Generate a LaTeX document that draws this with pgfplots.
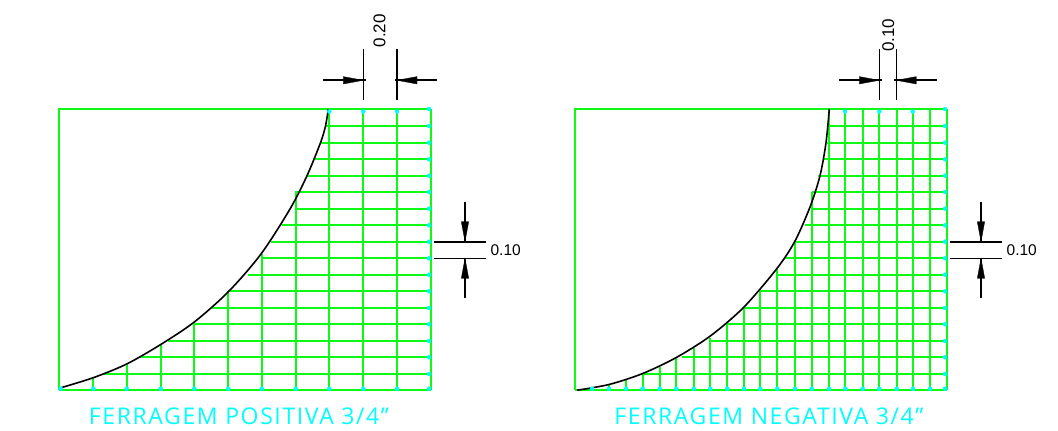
\documentclass[border=0pt]{standalone}
\usepackage{fontspec}
\usepackage{pgfplots}
\pgfplotsset{compat=1.18}
\setmainfont{Liberation Sans}
\newfontfamily\cad[LetterSpace=7]{Open Sans}
\definecolor{gr}{HTML}{0CFA14}
\definecolor{cy}{HTML}{00FFFF}
\begin{document}
\begin{tikzpicture}
\begin{axis}[
  width=1058bp,height=431bp,scale only axis,
  xmin=0,xmax=1058,ymin=0,ymax=431,y dir=reverse,
  axis lines=none,clip=false,unbounded coords=jump,
  grn/.style={color=gr,line width=1.8bp,no markers},
  blk/.style={color=black,line width=1.6bp,no markers},
  arr/.style={color=black,fill=black,line width=0.3bp,no markers},
  mk/.style={only marks,mark=*,mark size=2bp,color=cy,mark options={fill=cy,draw=cy}},
]
\addplot[draw=none,no markers] coordinates {(0,0)(1058,431)};
% LEFT PANEL
\addplot[color=gr,line width=1.5bp,no markers] coordinates {(59,390.3)(59,109)(430.7,109)};
\addplot[grn] coordinates {
(325.7,126)(430.7,126)(nan,nan)(320,142.7)(430.7,142.7)(nan,nan)(313.3,159.3)(430.7,159.3)(nan,nan)
(306.7,175.7)(430.7,175.7)(nan,nan)(295,192)(430.7,192)(nan,nan)(295,208.7)(430.7,208.7)(nan,nan)
(281.7,225.3)(430.7,225.3)(nan,nan)(271,241.7)(430.7,241.7)(nan,nan)(260.7,258.3)(430.7,258.3)(nan,nan)
(248,274.7)(430.7,274.7)(nan,nan)(228,291.3)(430.7,291.3)(nan,nan)(211.7,308)(430.7,308)(nan,nan)
(194,324.3)(430.7,324.3)(nan,nan)(167.7,341)(430.7,341)(nan,nan)(140,357.3)(430.7,357.3)(nan,nan)
(101.7,374)(430.7,374)(nan,nan)(59,390.3)(430.7,390.3)};
\addplot[grn] coordinates {
(93.3,377.7)(93.3,390.3)(nan,nan)(126.7,364.3)(126.7,390.3)(nan,nan)(160.7,344.3)(160.7,390.3)(nan,nan)
(194.3,323.7)(194.3,390.3)(nan,nan)(228.3,291)(228.3,390.3)(nan,nan)(261.7,254.3)(261.7,390.3)(nan,nan)
(295.7,191.7)(295.7,390.3)(nan,nan)(329.3,109)(329.3,390.3)(nan,nan)(363.3,109)(363.3,390.3)(nan,nan)
(397,109)(397,390.3)(nan,nan)(430.7,109)(430.7,390.3)};
\addplot[blk,smooth] coordinates {(61,387.7)(93.3,377.7)(126.7,364)(160.7,344.5)(194.3,322)(228.6,291.5)(261,254)(290,209)(307,175.7)(320.5,142.7)(325.5,126)(328.3,109)};
\addplot[mk] coordinates {
(60.7,388.7)(93.3,388.7)(126.7,388.7)(160.7,388.7)(194.3,388.7)(228.3,388.7)(261.7,388.7)(295.7,388.7)(329.3,388.7)(363.3,388.7)(397,388.7)(429,388.7)
(329.3,111.5)(363.3,111.5)(397,111.5)
(429,109)(429,126)(429,142.7)(429,159.3)(429,175.7)(429,192)(429,208.7)(429,225.3)(429,241.7)(429,258.3)(429,274.7)(429,291.3)(429,308)(429,324.3)(429,341)(429,357.3)(429,374)};
% left dimensions
\addplot[blk] coordinates {(363.3,49.3)(363.3,100.3)(nan,nan)(397,49.3)(397,100.3)(nan,nan)(323,80.3)(365.5,80.3)(nan,nan)(395,80.3)(437.3,80.3)
(nan,nan)(434,241.7)(485.7,241.7)(nan,nan)(434,258.3)(485.7,258.3)(nan,nan)(465,201.7)(465,241.7)(nan,nan)(465,258.3)(465,298.3)};
\addplot[arr] coordinates {(343.3,76.6)(363.3,80.3)(343.3,84)(343.3,76.6)};
\addplot[arr] coordinates {(417,76.6)(397,80.3)(417,84)(417,76.6)};
\addplot[arr] coordinates {(461.3,221.7)(465,241.7)(468.7,221.7)(461.3,221.7)};
\addplot[arr] coordinates {(461.3,278.3)(465,258.3)(468.7,278.3)(461.3,278.3)};
\node[rotate=90,font=\fontsize{17bp}{18bp}\selectfont,inner sep=0pt] at (axis cs:379.5,30.7) {0.20};
\node[font=\fontsize{15.5bp}{16bp}\selectfont,inner sep=0pt] at (axis cs:505.7,250) {0.10};
\node[color=cy,font=\fontsize{23bp}{24bp}\cad,inner sep=0pt] at (axis cs:239,416.5) {FERRAGEM POSITIVA 3/4”};
% RIGHT PANEL
\addplot[color=gr,line width=1.5bp,no markers] coordinates {(575,390.3)(575,109)(946.7,109)};
\addplot[grn] coordinates {
(829,126)(946.7,126)(nan,nan)(826.7,142.7)(946.7,142.7)(nan,nan)(823.3,159.3)(946.7,159.3)(nan,nan)
(818.3,175.7)(946.7,175.7)(nan,nan)(811.7,192)(946.7,192)(nan,nan)(811.7,208.7)(946.7,208.7)(nan,nan)
(805,225.3)(946.7,225.3)(nan,nan)(795,241.7)(946.7,241.7)(nan,nan)(785,258.3)(946.7,258.3)(nan,nan)
(776.7,274.7)(946.7,274.7)(nan,nan)(760,291.3)(946.7,291.3)(nan,nan)(744,308)(946.7,308)(nan,nan)
(726.7,324.3)(946.7,324.3)(nan,nan)(710,341)(946.7,341)(nan,nan)(681.7,357.3)(946.7,357.3)(nan,nan)
(643,374)(946.7,374)(nan,nan)(575,390.3)(946.7,390.3)};
\addplot[grn] coordinates {
(592,388)(592,390.3)(nan,nan)(609,384)(609,390.3)(nan,nan)(626,379.3)(626,390.3)(nan,nan)
(642.7,374)(642.7,390.3)(nan,nan)(659.7,366.7)(659.7,390.3)(nan,nan)(676.3,358)(676.3,390.3)(nan,nan)
(693.7,348)(693.7,390.3)(nan,nan)(710.3,337.7)(710.3,390.3)(nan,nan)(727.3,324.3)(727.3,390.3)(nan,nan)
(744,308)(744,390.3)(nan,nan)(760.3,291)(760.3,390.3)(nan,nan)(777.3,269.3)(777.3,390.3)(nan,nan)
(795,241.7)(795,390.3)(nan,nan)(811.7,192)(811.7,390.3)(nan,nan)(829,109)(829,390.3)(nan,nan)
(845.3,109)(845.3,390.3)(nan,nan)(862.7,109)(862.7,390.3)(nan,nan)(879.3,109)(879.3,390.3)(nan,nan)
(896.7,109)(896.7,390.3)(nan,nan)(913,109)(913,390.3)(nan,nan)(930,109)(930,390.3)(nan,nan)(946.7,109)(946.7,390.3)};
\addplot[blk,smooth] coordinates {(577,390.2)(609,384.5)(642.7,373.5)(676.3,357.5)(710.3,336)(744,307)(777.3,268)(795,241)(810,207)(820,175.7)(826,142.7)(829.3,109)};
\addplot[mk] coordinates {
(592,388.7)(609,388.7)(626,388.7)(642.7,388.7)(659.7,388.7)(676.3,388.7)(693.7,388.7)(710.3,388.7)(727.3,388.7)(744,388.7)(760.3,388.7)(777.3,388.7)(795,388.7)(811.7,388.7)(829,388.7)(845.3,388.7)(862.7,388.7)(879.3,388.7)(896.7,388.7)(913,388.7)(930,388.7)(945,388.7)
(845,111.5)(879.3,111.5)(912.7,111.5)
(945,109)(945,126)(945,142.7)(945,159.3)(945,175.7)(945,192)(945,208.7)(945,225.3)(945,241.7)(945,258.3)(945,274.7)(945,291.3)(945,308)(945,324.3)(945,341)(945,357.3)(945,374)};
% right dimensions
\addplot[blk] coordinates {(879.3,49.3)(879.3,100.3)(nan,nan)(896.3,49.3)(896.3,100.3)(nan,nan)(839,80.3)(881.5,80.3)(nan,nan)(894,80.3)(936.7,80.3)
(nan,nan)(950,241.7)(1001.7,241.7)(nan,nan)(950,258.3)(1001.7,258.3)(nan,nan)(981,201.7)(981,241.7)(nan,nan)(981,258.3)(981,298.3)};
\addplot[arr] coordinates {(859.3,76.6)(879.3,80.3)(859.3,84)(859.3,76.6)};
\addplot[arr] coordinates {(916.3,76.6)(896.3,80.3)(916.3,84)(916.3,76.6)};
\addplot[arr] coordinates {(977.3,221.7)(981,241.7)(984.7,221.7)(977.3,221.7)};
\addplot[arr] coordinates {(977.3,278.3)(981,258.3)(984.7,278.3)(977.3,278.3)};
\node[rotate=90,font=\fontsize{17bp}{18bp}\selectfont,inner sep=0pt] at (axis cs:888.3,35.3) {0.10};
\node[font=\fontsize{15.5bp}{16bp}\selectfont,inner sep=0pt] at (axis cs:1021.7,250) {0.10};
\node[color=cy,font=\fontsize{23bp}{24bp}\cad,inner sep=0pt] at (axis cs:769,416.5) {FERRAGEM NEGATIVA 3/4”};
\end{axis}
\end{tikzpicture}
\end{document}
